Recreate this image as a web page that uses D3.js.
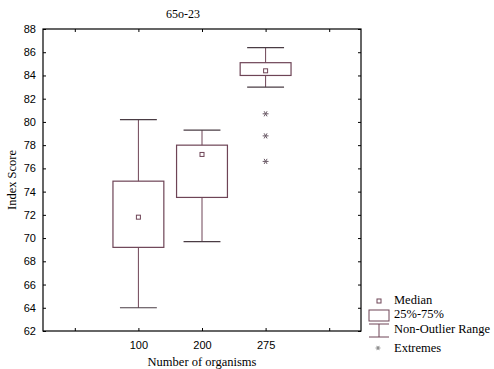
<!DOCTYPE html>
<html>
<head>
<meta charset="utf-8">
<script src="https://cdn.jsdelivr.net/npm/d3@7"></script>
<style>
  html, body { margin: 0; padding: 0; background: #fff; }
  svg { display: block; }
</style>
</head>
<body>
<svg id="chart" width="494" height="369"></svg>
<script>
// Box-plot statistics for each group
const categories = ["100", "200", "275"];
const medians = [71.8, 77.2, 84.4];
const q1 = [69.2, 73.5, 84.0];
const q3 = [74.9, 78.0, 85.1];
const whiskerLow = [64.0, 69.7, 83.0];
const whiskerHigh = [80.2, 79.3, 86.4];
const extremes = [[], [], [80.7, 78.8, 76.6]];
const yTicks = [62, 64, 66, 68, 70, 72, 74, 76, 78, 80, 82, 84, 86, 88];
const legendLabels = ["Median", "25%-75%", "Non-Outlier Range", "Extremes"];

const svg = d3.select("#chart");
const plotL = 43, plotR = 361, plotT = 29, plotB = 331;
const boxColor = "#6e4456";
const capColor = "#4a3c44";
const starColor = "#6a5a66";
const serif = "'Liberation Serif', 'Times New Roman', serif";
const sans = "'Liberation Sans', Arial, sans-serif";

const slots = 5; // one empty slot either side of the groups
const x = d3.scaleLinear().domain([0, slots]).range([plotL, plotR]);
const y = d3.scaleLinear().domain([62, 88]).range([plotB, plotT]);
const slotW = x(1) - x(0);
const catX = i => x(i + 1.5);
const star = d3.symbol().type(d3.symbolAsterisk).size(24);

// Frame
svg.append("rect")
  .attr("x", plotL).attr("y", plotT)
  .attr("width", plotR - plotL).attr("height", plotB - plotT)
  .attr("fill", "none").attr("stroke", "#000").attr("stroke-width", 1.2);

// Left axis with labels, inward ticks
const yAxis = svg.append("g").attr("transform", `translate(${plotL},0)`)
  .call(d3.axisLeft(y).tickValues(yTicks).tickSize(-3).tickPadding(7).tickFormat(d3.format("d")));
yAxis.select(".domain").remove();
yAxis.selectAll("line").attr("stroke", "#000");
yAxis.selectAll("text").attr("font-family", sans).attr("font-size", 11).attr("fill", "#000");

// Right axis ticks
const yAxisR = svg.append("g").attr("transform", `translate(${plotR},0)`)
  .call(d3.axisRight(y).tickValues(yTicks).tickSize(-3).tickFormat(""));
yAxisR.select(".domain").remove();
yAxisR.selectAll("line").attr("stroke", "#000");

// Bottom axis: tick marks at every slot, labels on the groups
const slotTicks = d3.range(slots).map(i => i + 0.5);
const xAxis = svg.append("g").attr("transform", `translate(0,${plotB})`)
  .call(d3.axisBottom(x).tickValues(slotTicks).tickSize(-3).tickPadding(10)
    .tickFormat(d => { const i = Math.round(d - 1.5); return categories[i] || ""; }));
xAxis.select(".domain").remove();
xAxis.selectAll("line").attr("stroke", "#000");
xAxis.selectAll("text").attr("font-family", sans).attr("font-size", 11).attr("fill", "#000");

const xAxisT = svg.append("g").attr("transform", `translate(0,${plotT})`)
  .call(d3.axisTop(x).tickValues(slotTicks).tickSize(-3).tickFormat(""));
xAxisT.select(".domain").remove();
xAxisT.selectAll("line").attr("stroke", "#000");

// Boxes
const boxW = slotW * 0.8;
const capW = slotW * 0.58;
const g = svg.append("g");
categories.forEach((c, i) => {
  const cx = catX(i);
  g.append("line").attr("x1", cx).attr("x2", cx)
    .attr("y1", y(whiskerHigh[i])).attr("y2", y(q3[i]))
    .attr("stroke", boxColor).attr("stroke-width", 1);
  g.append("line").attr("x1", cx).attr("x2", cx)
    .attr("y1", y(q1[i])).attr("y2", y(whiskerLow[i]))
    .attr("stroke", boxColor).attr("stroke-width", 1);
  [whiskerHigh[i], whiskerLow[i]].forEach(v => {
    g.append("line").attr("x1", cx - capW / 2).attr("x2", cx + capW / 2)
      .attr("y1", y(v)).attr("y2", y(v))
      .attr("stroke", capColor).attr("stroke-width", 1.2);
  });
  g.append("rect").attr("x", cx - boxW / 2).attr("y", y(q3[i]))
    .attr("width", boxW).attr("height", y(q1[i]) - y(q3[i]))
    .attr("fill", "none").attr("stroke", boxColor).attr("stroke-width", 1.2);
  g.append("rect").attr("x", cx - 2).attr("y", y(medians[i]) - 2)
    .attr("width", 4).attr("height", 4)
    .attr("fill", "none").attr("stroke", boxColor).attr("stroke-width", 1);
  extremes[i].forEach(v => {
    g.append("path").attr("d", star)
      .attr("transform", `translate(${cx},${y(v)}) rotate(90)`)
      .attr("fill", "none").attr("stroke", starColor).attr("stroke-width", 1);
  });
});

// Title and axis titles
svg.append("text").attr("x", (plotL + plotR) / 2 - 19).attr("y", 18)
  .attr("text-anchor", "middle").attr("font-family", serif).attr("font-size", 12)
  .text("65o-23");
svg.append("text").attr("x", (plotL + plotR) / 2).attr("y", 366)
  .attr("text-anchor", "middle").attr("font-family", serif).attr("font-size", 12.5)
  .text("Number of organisms");
svg.append("text").attr("transform", `translate(16,${(plotT + plotB) / 2}) rotate(-90)`)
  .attr("text-anchor", "middle").attr("font-family", serif).attr("font-size", 12.5)
  .text("Index Score");

// Legend
const lg = svg.append("g");
const lx = 379, tx = 394;
lg.append("rect").attr("x", lx - 2).attr("y", 299).attr("width", 4).attr("height", 4)
  .attr("fill", "none").attr("stroke", boxColor);
lg.append("rect").attr("x", 369).attr("y", 310).attr("width", 20).attr("height", 11)
  .attr("fill", "none").attr("stroke", boxColor).attr("stroke-width", 1);
lg.append("line").attr("x1", 369).attr("x2", 389).attr("y1", 324).attr("y2", 324).attr("stroke", boxColor);
lg.append("line").attr("x1", lx).attr("x2", lx).attr("y1", 324).attr("y2", 337).attr("stroke", boxColor);
lg.append("line").attr("x1", 369).attr("x2", 389).attr("y1", 337).attr("y2", 337).attr("stroke", boxColor);
lg.append("path").attr("d", d3.symbol().type(d3.symbolAsterisk).size(16))
  .attr("transform", `translate(${lx - 1},348) rotate(90)`)
  .attr("fill", "none").attr("stroke", "#888").attr("stroke-width", 1);
const ly = [304, 318, 333, 352];
legendLabels.forEach((t, i) => {
  lg.append("text").attr("x", tx).attr("y", ly[i])
    .attr("font-family", serif).attr("font-size", 12.5).text(t);
});
</script>
</body>
</html>
